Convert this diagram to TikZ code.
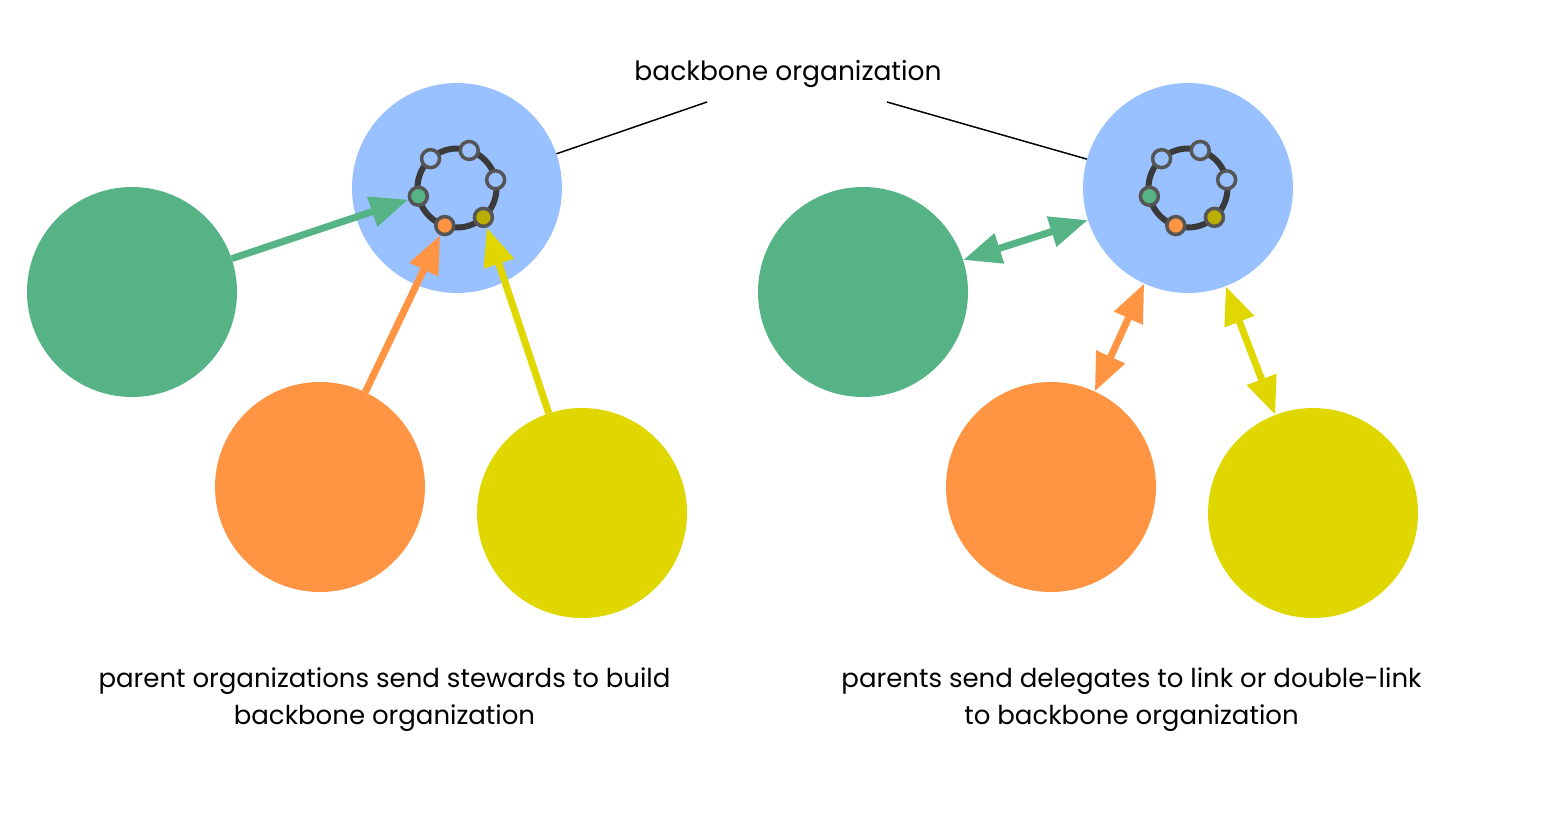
\documentclass[tikz,border=0pt]{standalone}
\usepackage{fontspec}
\setmainfont{Poppins}
\usetikzlibrary{arrows.meta,calc}
\definecolor{cblue}{HTML}{99C0FF}
\definecolor{cgreen}{HTML}{56B386}
\definecolor{corange}{HTML}{FF9442}
\definecolor{cyellow}{HTML}{E0D600}
\definecolor{colive}{HTML}{BAAE00}
\definecolor{cring}{HTML}{3A3A3A}
\definecolor{cnode}{HTML}{555555}
\tikzset{
  big/.style={circle,minimum size=210pt,inner sep=0pt,draw=none,fill=#1},
  ringnode/.style={circle,minimum size=18pt,inner sep=0pt,draw=cnode,line width=3.5pt,fill=#1},
  ringline/.style={draw=cring,line width=6pt},
  onearrow/.style={line width=7pt,draw=#1,-{Triangle[length=38pt,width=30pt]}},
  twoarrow/.style={line width=7pt,draw=#1,{Triangle[length=38pt,width=30pt]}-{Triangle[length=38pt,width=30pt]}},
  pointer/.style={line width=1.5pt,draw=black},
  caption/.style={align=center,font=\fontsize{26}{36.5}\selectfont,inner sep=0pt,anchor=base},
  toplabel/.style={font=\fontsize{26.5}{30}\selectfont,inner sep=0pt,anchor=base}
}
\begin{document}
\begin{tikzpicture}[x=1pt,y=-1pt]
\useasboundingbox (0,0) rectangle (1555,836);
% left half
\node[big=cblue] (bL) at (457,188) {};
\node[big=cgreen] (gL) at (132,292) {};
\node[big=corange] (oL) at (320,487) {};
\node[big=cyellow] (yL) at (582,513) {};
% right half
\node[big=cblue] (bR) at (1188,188) {};
\node[big=cgreen] (gR) at (863,292) {};
\node[big=corange] (oR) at (1051,487) {};
\node[big=cyellow] (yR) at (1313,513) {};
% rings
\foreach \s/\ctr in {L/bL,R/bR}{
  \draw[ringline] (\ctr) circle (39.5);
  \node[ringnode=cblue]   (ringa\s) at ($(\ctr)+({39.5*cos(-132)},{39.5*sin(-132)})$) {};
  \node[ringnode=cblue]   (ringb\s) at ($(\ctr)+({39.5*cos(-72)},{39.5*sin(-72)})$) {};
  \node[ringnode=cblue]   (ringc\s) at ($(\ctr)+({39.5*cos(-12)},{39.5*sin(-12)})$) {};
  \node[ringnode=colive]  (ringy\s) at ($(\ctr)+({39.5*cos(48)},{39.5*sin(48)})$) {};
  \node[ringnode=corange] (ringo\s) at ($(\ctr)+({39.5*cos(108)},{39.5*sin(108)})$) {};
  \node[ringnode=cgreen]  (ringg\s) at ($(\ctr)+({39.5*cos(168)},{39.5*sin(168)})$) {};
}
% left arrows
\draw[onearrow=cgreen] (gL) -- (ringgL);
\draw[onearrow=corange] (oL) -- (ringoL);
\draw[onearrow=cyellow] (yL) -- (ringyL);
% right double arrows
\draw[twoarrow=cgreen] (gR) -- (bR);
\draw[twoarrow=corange] (oR) -- (bR);
\draw[twoarrow=cyellow] (yR) -- (bR);
% label
\node[toplabel] (lbl) at (788,80) {backbone organization};
\coordinate (pl) at (707,102);
\coordinate (pr) at (887,102);
\draw[pointer] (pl) -- (bL);
\draw[pointer] (pr) -- (bR);
% captions
\node[caption] (capL) at (384.5,724) {parent organizations send stewards to build\\backbone organization};
\node[caption] (capR) at (1131.5,724) {parents send delegates to link or double-link\\to backbone organization};
\end{tikzpicture}
\end{document}
